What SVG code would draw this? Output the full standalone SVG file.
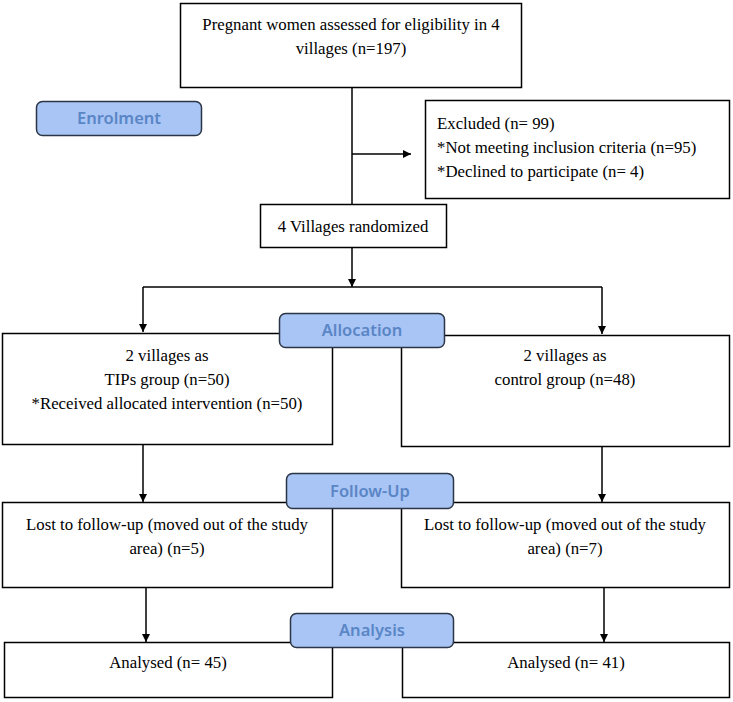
<svg xmlns="http://www.w3.org/2000/svg" width="733" height="702" viewBox="0 0 733 702">
<style>
.box{fill:#fff;stroke:#000;stroke-width:1.5}
.lab{fill:#a9c5f5;stroke:#2b3545;stroke-width:1.5}
.t{font-family:"Liberation Serif","Times New Roman",serif;font-size:16.8px;fill:#000}
.m{text-anchor:middle}
.lt{font-family:"Noto Sans","Open Sans",sans-serif;font-size:16.5px;font-weight:600;fill:#5a86c6;text-anchor:middle}
.c{fill:none;stroke:#000;stroke-width:1.5}
</style>
<defs>
<marker id="ah" viewBox="0 0 10 10" refX="10" refY="5" markerWidth="8" markerHeight="9" markerUnits="userSpaceOnUse" orient="auto">
<path d="M0,0 L10,5 L0,10 z" fill="#000"/>
</marker>
</defs>
<g id="connectors">
<path class="c" d="M352,88 V204"/>
<path class="c" d="M352,154 H411" marker-end="url(#ah)"/>
<path class="c" d="M352,248 V287" marker-end="url(#ah)"/>
<path class="c" d="M143,287 H602"/>
<path class="c" d="M143,287 V332" marker-end="url(#ah)"/>
<path class="c" d="M602,287 V334" marker-end="url(#ah)"/>
<path class="c" d="M143,445 V502" marker-end="url(#ah)"/>
<path class="c" d="M602,447 V502" marker-end="url(#ah)"/>
<path class="c" d="M146,588 V642" marker-end="url(#ah)"/>
<path class="c" d="M604,588 V642" marker-end="url(#ah)"/>
</g>
<g id="assessed">
<rect class="box" x="180.5" y="3.5" width="341" height="84"/>
<text class="t m" x="351" y="30">Pregnant women assessed for eligibility in 4</text>
<text class="t m" x="351" y="54">villages (n=197)</text>
</g>
<g id="enrolment">
<rect class="lab" x="36.5" y="101.5" width="165" height="34" rx="6"/>
<text class="lt" x="119" y="124">Enrolment</text>
</g>
<g id="excluded">
<rect class="box" x="425.5" y="100.5" width="304" height="98"/>
<text class="t" x="437" y="129">Excluded (n= 99)</text>
<text class="t" x="437" y="153">*Not meeting inclusion criteria (n=95)</text>
<text class="t" x="437" y="177">*Declined to participate (n= 4)</text>
</g>
<g id="randomized">
<rect class="box" x="260.5" y="204.5" width="186" height="43"/>
<text class="t m" x="353" y="232">4 Villages randomized</text>
</g>
<g id="tips">
<rect class="box" x="2.5" y="333.5" width="330" height="111"/>
<text class="t m" x="167" y="361">2 villages as</text>
<text class="t m" x="167" y="385">TIPs group (n=50)</text>
<text class="t m" x="167" y="409">*Received allocated intervention (n=50)</text>
</g>
<g id="control">
<rect class="box" x="401.5" y="335.5" width="328" height="111"/>
<text class="t m" x="565" y="361">2 villages as</text>
<text class="t m" x="565" y="385">control group (n=48)</text>
</g>
<g id="allocation">
<rect class="lab" x="279.5" y="313.5" width="165" height="34" rx="6"/>
<text class="lt" x="362" y="336">Allocation</text>
</g>
<g id="lost-left">
<rect class="box" x="2.5" y="502.5" width="330" height="85"/>
<text class="t m" x="167" y="530">Lost to follow-up (moved out of the study</text>
<text class="t m" x="167" y="554">area) (n=5)</text>
</g>
<g id="lost-right">
<rect class="box" x="401.5" y="502.5" width="328" height="85"/>
<text class="t m" x="565" y="530">Lost to follow-up (moved out of the study</text>
<text class="t m" x="565" y="554">area) (n=7)</text>
</g>
<g id="followup">
<rect class="lab" x="286.5" y="473.5" width="167" height="35" rx="6"/>
<text class="lt" x="370" y="497">Follow-Up</text>
</g>
<g id="analysed-left">
<rect class="box" x="4.5" y="642.5" width="328" height="55"/>
<text class="t m" x="168" y="668">Analysed (n= 45)</text>
</g>
<g id="analysed-right">
<rect class="box" x="402.5" y="642.5" width="327" height="55"/>
<text class="t m" x="566" y="668">Analysed (n= 41)</text>
</g>
<g id="analysis">
<rect class="lab" x="290.5" y="613.5" width="163" height="34" rx="6"/>
<text class="lt" x="372" y="636">Analysis</text>
</g>
</svg>
